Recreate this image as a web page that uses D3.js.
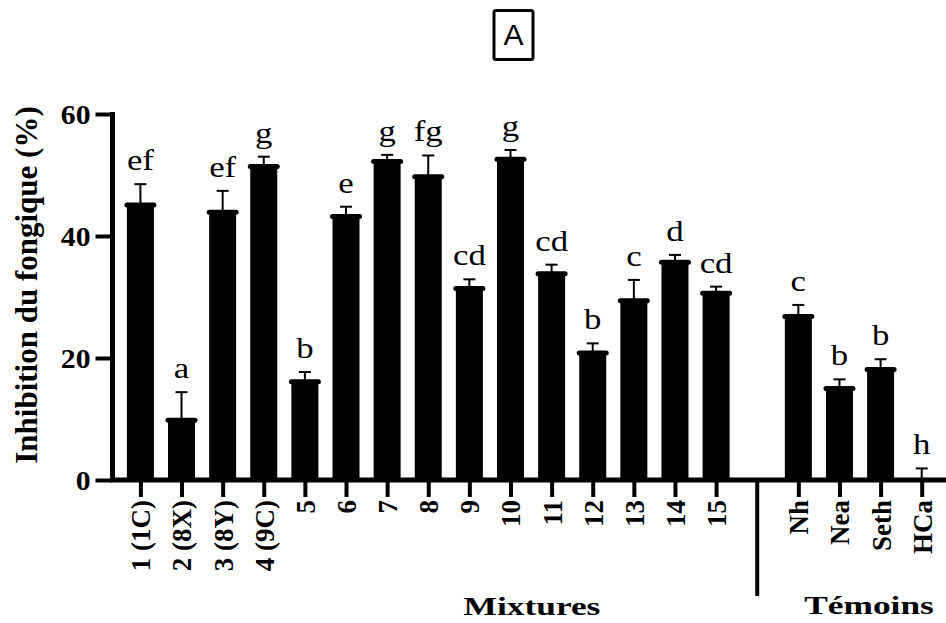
<!DOCTYPE html>
<html>
<head>
<meta charset="utf-8">
<script src="https://cdn.jsdelivr.net/npm/d3@7"></script>
<style>
  body { margin: 0; background: #fff; }
  svg { display: block; }
  text { font-family: "Liberation Serif", "Times New Roman", serif; fill: #000; }
</style>
</head>
<body>
<svg id="chart"></svg>
<script>
// Mixtures (15 treatments) then the controls (Témoins)
var mixtureNames = ["1 (1C)", "2 (8X)", "3 (8Y)", "4 (9C)", "5", "6", "7", "8", "9", "10", "11", "12", "13", "14", "15"];
var mixtureValues = [45.1, 9.8, 43.9, 51.4, 16.1, 43.2, 52.2, 49.7, 31.4, 52.6, 33.8, 20.8, 29.4, 35.7, 30.6];
var mixtureErrors = [3.4, 4.6, 3.5, 1.6, 1.6, 1.6, 1.1, 3.5, 1.5, 1.5, 1.5, 1.6, 3.4, 1.2, 1.1];
var mixtureLetters = ["ef", "a", "ef", "g", "b", "e", "g", "fg", "cd", "g", "cd", "b", "c", "d", "cd"];

var controlNames = ["Nh", "Nea", "Seth", "HCa"];
var controlValues = [26.8, 15.0, 18.1, 0];
var controlErrors = [1.9, 1.5, 1.7, 1.9];
var controlLetters = ["c", "b", "b", "h"];

var yTicks = [0, 20, 40, 60];

var width = 946, height = 623;
var GAP = "__gap__";

var rows = [];
mixtureNames.forEach(function(n, i) {
  rows.push({ name: n, value: mixtureValues[i], err: mixtureErrors[i], letter: mixtureLetters[i] });
});
controlNames.forEach(function(n, i) {
  rows.push({ name: n, value: controlValues[i], err: controlErrors[i], letter: controlLetters[i] });
});

var domain = mixtureNames.concat([GAP]).concat(controlNames);

var svg = d3.select("#chart")
    .attr("width", width)
    .attr("height", height);

var x = d3.scalePoint()
    .domain(domain)
    .range([140.4, 921.7]);

var y = d3.scaleLinear()
    .domain([0, 60])
    .range([480, 114]);

var barW = 27;

// horizontal text in the reference is a bit wider than the font
function stretched(sel, sx) {
  return sel.attr("transform", function() {
    var t = d3.select(this);
    return "translate(" + t.attr("data-x") + "," + t.attr("data-y") + ") scale(" + sx + ",1)";
  });
}

// bars
var bar = svg.selectAll("g.bar")
    .data(rows)
  .enter().append("g")
    .attr("class", "bar");

bar.append("rect")
    .attr("x", function(d) { return x(d.name) - barW / 2; })
    .attr("y", function(d) { return y(d.value); })
    .attr("width", barW)
    .attr("height", function(d) { return y(0) - y(d.value); })
    .attr("fill", "#000");

bar.filter(function(d) { return d.value > 0; })
  .append("line")
    .attr("x1", function(d) { return x(d.name) - barW / 2; })
    .attr("x2", function(d) { return x(d.name) + barW / 2; })
    .attr("y1", function(d) { return y(d.value); })
    .attr("y2", function(d) { return y(d.value); })
    .attr("stroke", "#000")
    .attr("stroke-width", 5)
    .attr("stroke-linecap", "round");

// error bars (upper half only)
bar.append("line")
    .attr("x1", function(d) { return x(d.name); })
    .attr("x2", function(d) { return x(d.name); })
    .attr("y1", function(d) { return y(d.value); })
    .attr("y2", function(d) { return y(d.value + d.err); })
    .attr("stroke", "#000")
    .attr("stroke-width", 2);

bar.append("line")
    .attr("x1", function(d) { return x(d.name) - 6; })
    .attr("x2", function(d) { return x(d.name) + 6; })
    .attr("y1", function(d) { return y(d.value + d.err); })
    .attr("y2", function(d) { return y(d.value + d.err); })
    .attr("stroke", "#000")
    .attr("stroke-width", 2);

// significance letters
bar.append("text")
    .attr("data-x", function(d) { return x(d.name); })
    .attr("data-y", function(d) { return y(d.value + d.err) - 14; })
    .attr("text-anchor", "middle")
    .style("font-size", "29px")
    .text(function(d) { return d.letter; })
    .call(stretched, 1.2);

// y axis
var yAxis = svg.append("g")
    .attr("transform", "translate(112.5,0)")
    .call(d3.axisLeft(y).tickValues(yTicks).tickSize(17).tickPadding(5))
    .attr("font-family", "'Liberation Serif', serif")
    .attr("font-size", 27)
    .attr("font-weight", "bold");

yAxis.select(".domain")
    .attr("d", "M0," + (y(60) - 2) + "V" + (y(0) + 2))
    .attr("stroke-width", 5);
yAxis.selectAll(".tick line").attr("stroke-width", 4);
yAxis.selectAll(".tick text")
    .attr("x", -22)
    .attr("dy", "0.34em")
    .attr("transform", function() {
      var t = d3.select(this);
      return "translate(" + t.attr("x") + ",0) scale(1.1,1) translate(" + (-t.attr("x")) + ",0)";
    });

// x axis
var xAxis = svg.append("g")
    .attr("transform", "translate(0," + y(0) + ")")
    .call(d3.axisBottom(x).tickSize(0).tickFormat(""))
    .attr("font-family", "'Liberation Serif', serif")
    .attr("font-size", 27)
    .attr("font-weight", "bold");

xAxis.select(".domain")
    .attr("d", "M110,0H946")
    .attr("stroke-width", 5);
xAxis.selectAll(".tick").filter(function(d) { return d === GAP; }).remove();

xAxis.selectAll(".tick")
  .append("line")
    .attr("y1", 0)
    .attr("y2", 17)
    .attr("stroke", "#000")
    .attr("stroke-width", 4);

xAxis.selectAll(".tick")
  .append("text")
    .attr("transform", "translate(0,20) rotate(-90)")
    .attr("dy", "0.35em")
    .attr("text-anchor", "end")
    .attr("fill", "#000")
    .text(function(d) { return d; });

// separator between the two groups
svg.append("line")
    .attr("x1", x(GAP))
    .attr("x2", x(GAP))
    .attr("y1", y(0))
    .attr("y2", 596)
    .attr("stroke", "#000")
    .attr("stroke-width", 4);

// group titles
svg.append("text")
    .attr("data-x", 532)
    .attr("data-y", 615)
    .attr("text-anchor", "middle")
    .style("font-size", "26px")
    .style("font-weight", "bold")
    .text("Mixtures")
    .call(stretched, 1.36);

svg.append("text")
    .attr("data-x", 869)
    .attr("data-y", 614)
    .attr("text-anchor", "middle")
    .style("font-size", "26px")
    .style("font-weight", "bold")
    .text("Témoins")
    .call(stretched, 1.36);

// y title
svg.append("text")
    .attr("transform", "translate(37,285) rotate(-90)")
    .attr("text-anchor", "middle")
    .style("font-size", "31px")
    .style("font-weight", "bold")
    .text("Inhibition du fongique (%)");

// panel letter
svg.append("rect")
    .attr("x", 494)
    .attr("y", 10.5)
    .attr("width", 39)
    .attr("height", 49)
    .attr("rx", 2)
    .attr("fill", "none")
    .attr("stroke", "#000")
    .attr("stroke-width", 3);

svg.append("text")
    .attr("x", 513.5)
    .attr("y", 45)
    .attr("text-anchor", "middle")
    .style("font-family", "'Liberation Sans', Arial, sans-serif")
    .style("font-size", "30px")
    .text("A");
</script>
</body>
</html>
